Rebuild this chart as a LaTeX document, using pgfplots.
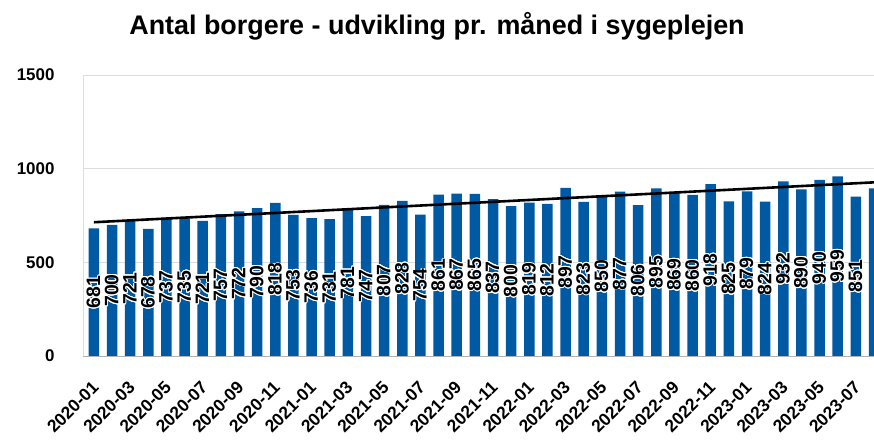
\documentclass[border=0pt]{standalone}
\usepackage{fontspec}
\setmainfont{Liberation Sans}
\usepackage{pgfplots}
\usepackage{pgfplotstable}
\usepackage[copies]{contour}
\contourlength{0.9bp}
\contournumber{24}
\pgfplotsset{compat=1.18}
\usetikzlibrary{calc}

\definecolor{barblue}{HTML}{0059A3}
\definecolor{gridgray}{HTML}{DDDDDD}

% months since 2020-01, number of citizens
\pgfplotstableread{
x y
0 681
1 700
2 721
3 678
4 737
5 735
6 721
7 757
8 772
9 790
10 818
11 753
12 736
13 731
14 781
15 747
16 807
17 828
18 754
19 861
20 867
21 865
22 837
23 800
24 819
25 812
26 897
27 823
28 850
29 877
30 806
31 895
32 869
33 860
34 918
35 825
36 879
37 824
38 932
39 890
40 940
41 959
42 851
43 895
}\borgere

\begin{document}
\begin{tikzpicture}
\begin{axis}[
  scale only axis, width=791bp, height=281bp,
  xmin=-0.6, xmax=43, ymin=0, ymax=1500,
  ytick={0,500,1000,1500},
  xtick={0,2,...,42},
  xticklabels={2020-01,2020-03,2020-05,2020-07,2020-09,2020-11,
    2021-01,2021-03,2021-05,2021-07,2021-09,2021-11,
    2022-01,2022-03,2022-05,2022-07,2022-09,2022-11,
    2023-01,2023-03,2023-05,2023-07},
  axis x line*=bottom, axis y line*=left,
  x axis line style={draw=gray!60, -},
  y axis line style={draw=gridgray, -},
  major tick length=0pt,
  ymajorgrids, grid style={gridgray, line width=0.8bp},
  /pgf/number format/assume math mode=true,
  /pgf/number format/1000 sep={},
  yticklabel style={font=\bfseries\fontsize{17}{20}\selectfont, xshift=-25bp},
  xticklabel style={font=\bfseries\fontsize{17.5}{20}\selectfont,
    xshift=4bp, yshift=-26bp, rotate=45, anchor=east},
]
\addplot[ybar, bar width=10.5bp, fill=barblue, draw=none] table[x=x, y=y] {\borgere};
\addplot[draw=none, mark=none, restrict x to domain=0:42,
  nodes near coords={\contour{white}{\pgfmathprintnumber{\pgfplotspointmeta}}},
  point meta=explicit,
  every node near coord/.append style={font=\bfseries\fontsize{19.5}{22}\selectfont,
    text=black, rotate=90, anchor=center, inner sep=0pt}]
  table[x=x, y expr=\thisrow{y}/2, meta=y] {\borgere};
\addplot[black, line width=2.6bp] coordinates {(0,714) (43,927)};
\coordinate (bl) at (rel axis cs:0,0);
\coordinate (tr) at (rel axis cs:1,1);
\coordinate (tl) at (rel axis cs:0,1);
\end{axis}
\node[font=\bfseries\fontsize{27}{31}\selectfont, anchor=base]
  at ($(tl)+(354bp,40bp)$) {Antal borgere - udvikling pr. måned i sygeplejen};
\pgfresetboundingbox
\path[use as bounding box] ($(bl)+(-83bp,-84bp)$) rectangle ($(tr)+(0,75bp)$);
\end{tikzpicture}
\end{document}
